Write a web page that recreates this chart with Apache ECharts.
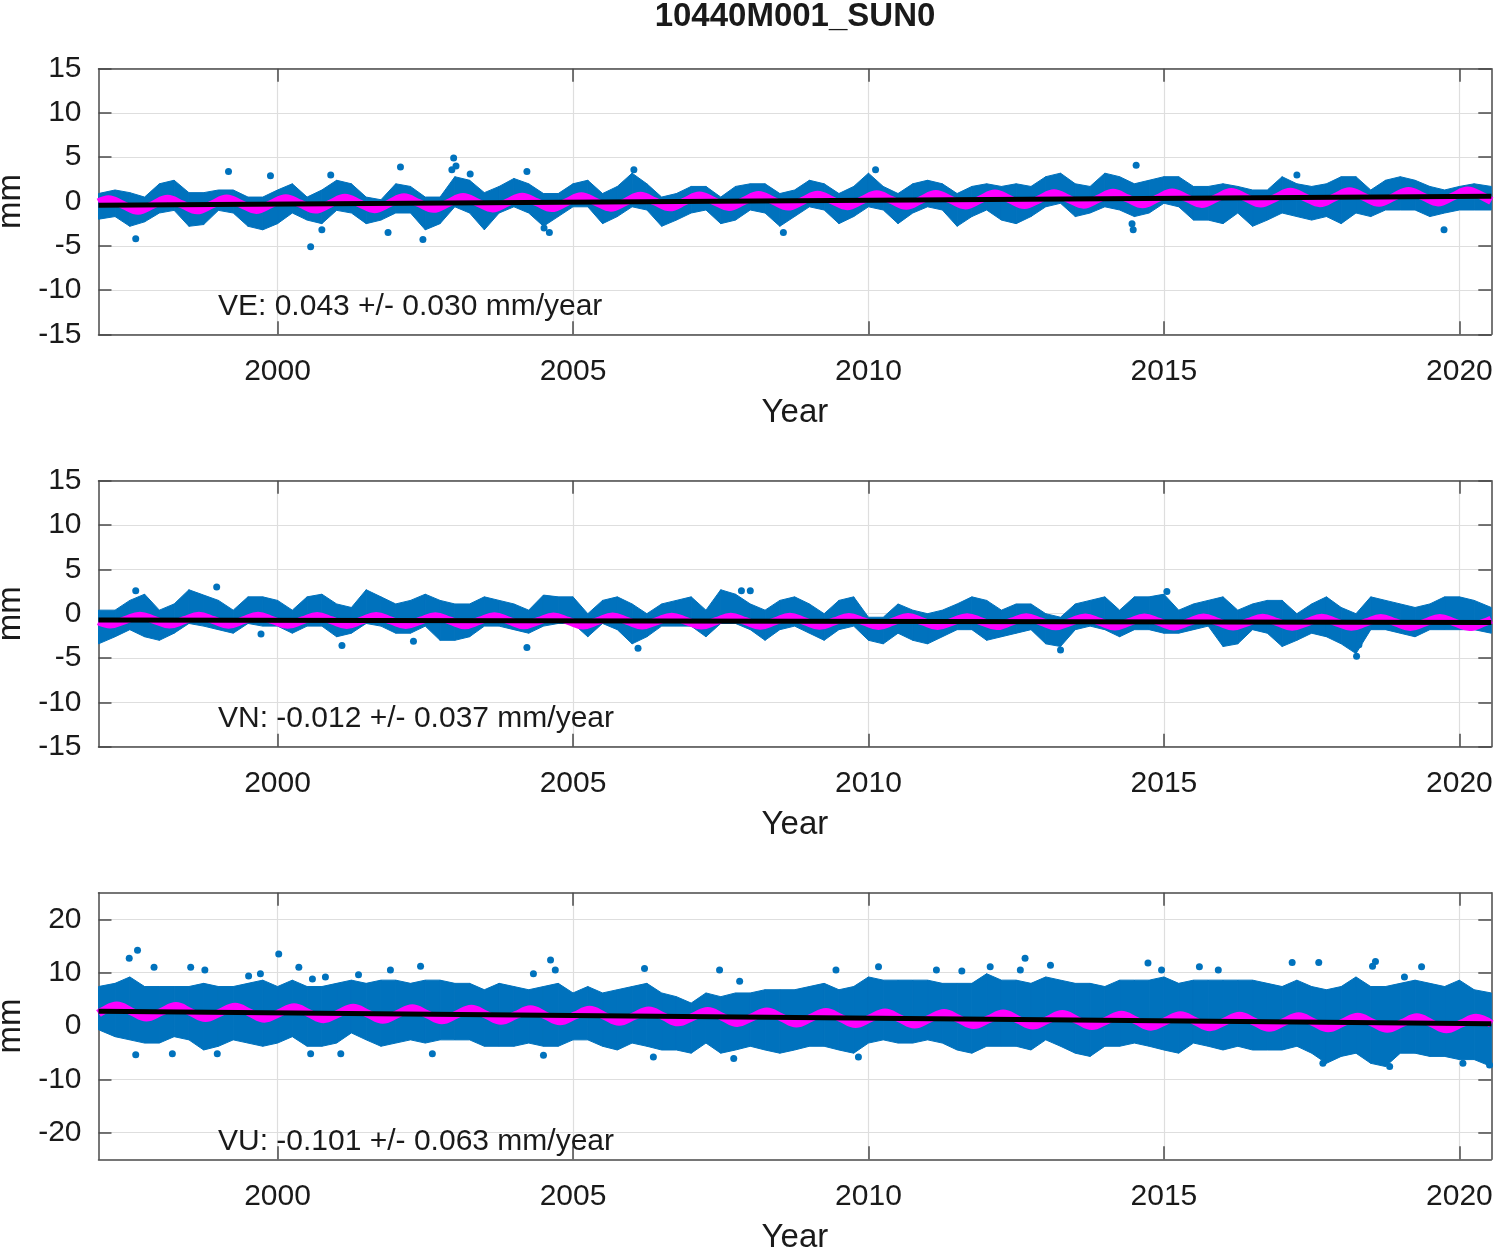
<!DOCTYPE html>
<html>
<head>
<meta charset="utf-8">
<script src="https://cdn.jsdelivr.net/npm/echarts@6/dist/echarts.min.js"></script>
<style>
html, body { margin: 0; background: #fff; }
#chart { width: 1500px; height: 1253px; }
</style>
</head>
<body>
<div id="chart"></div>
<script>
// sample times (decimal year) for the upper / lower edge of the daily point cloud
const bandYears = [1996.97, 1997.25, 1997.5, 1997.75,
  1998, 1998.25, 1998.5, 1998.75, 1999, 1999.25, 1999.5, 1999.75,
  2000, 2000.25, 2000.5, 2000.75, 2001, 2001.25, 2001.5, 2001.75,
  2002, 2002.25, 2002.5, 2002.75, 2003, 2003.25, 2003.5, 2003.75,
  2004, 2004.25, 2004.5, 2004.75, 2005, 2005.25, 2005.5, 2005.75,
  2006, 2006.25, 2006.5, 2006.75, 2007, 2007.25, 2007.5, 2007.75,
  2008, 2008.25, 2008.5, 2008.75, 2009, 2009.25, 2009.5, 2009.75,
  2010, 2010.25, 2010.5, 2010.75, 2011, 2011.25, 2011.5, 2011.75,
  2012, 2012.25, 2012.5, 2012.75, 2013, 2013.25, 2013.5, 2013.75,
  2014, 2014.25, 2014.5, 2014.75, 2015, 2015.25, 2015.5, 2015.75,
  2016, 2016.25, 2016.5, 2016.75, 2017, 2017.25, 2017.5, 2017.75,
  2018, 2018.25, 2018.5, 2018.75, 2019, 2019.25, 2019.5, 2019.75,
  2020, 2020.25, 2020.54];

const yearTicks = [2000, 2005, 2010, 2015, 2020];
const enTicks = [-15, -10, -5, 0, 5, 10, 15];
const upTicks = [-20, -10, 0, 10, 20];

// East
const eastHigh = [0.9, 1.3, 1.0, 0.5, 2.0, 2.4, 1.0, 1.0, 1.3, 1.3, 0.5, 0.5,
  1.3, 2.0, 0.5, 1.3, 2.4, 2.0, 0.5, 0.2, 2.0, 1.7, 0.5, 0.5, 2.8, 2.4, 1.0, 1.7,
  2.6, 2.0, 0.9, 0.9, 2.0, 2.4, 0.9, 1.7, 3.2, 2.0, 0.5, 0.9, 1.7, 1.7, 0.5, 1.7,
  2.0, 2.0, 0.9, 1.3, 2.4, 2.0, 0.9, 1.7, 3.2, 1.7, 0.9, 2.0, 2.4, 2.0, 0.9, 1.7,
  2.0, 1.7, 2.0, 1.7, 2.8, 3.2, 2.0, 1.7, 3.2, 2.8, 2.0, 2.4, 2.8, 2.8, 1.7, 1.7,
  2.0, 1.7, 1.3, 1.3, 2.8, 2.0, 1.7, 2.0, 2.8, 2.8, 1.3, 2.4, 2.8, 2.4, 1.7, 1.3,
  1.7, 2.0, 1.7];
const eastLow = [-2.0, -1.7, -2.8, -2.3, -1.3, -1.0, -2.8, -2.6, -1.0, -1.3, -2.8, -3.2,
  -2.5, -1.3, -2.1, -2.5, -1.0, -1.3, -2.5, -2.1, -1.3, -1.3, -3.2, -2.5, -0.6, -1.3, -3.2, -1.3,
  -0.6, -1.3, -2.8, -1.7, -0.6, -0.6, -2.5, -1.7, -0.6, -0.96, -2.8, -2.1, -1.3, -0.96, -2.5, -2.1,
  -0.96, -1.3, -2.8, -1.7, -0.6, -0.96, -2.5, -1.7, -0.6, -0.96, -2.5, -1.3, -0.6, -0.96, -2.8, -1.7,
  -0.96, -2.1, -2.5, -1.7, -0.6, -0.2, -1.7, -1.3, -0.6, -0.96, -1.7, -1.3, -0.2, -0.6, -2.1, -2.1,
  -2.5, -1.3, -2.8, -2.1, -1.3, -1.7, -2.1, -1.7, -2.5, -1.3, -1.7, -0.96, -0.96, -0.96, -1.7, -1.3,
  -0.96, -0.96, -0.96];
const eastPoints = [[1997.60, -4.2], [1999.17, 3.4], [1999.88, 2.9], [2000.56, -5.1], [2000.75, -3.2],
  [2000.90, 3.0], [2001.87, -3.5], [2002.08, 3.9], [2002.46, -4.3], [2002.95, 3.6], [2002.98, 4.9],
  [2003.02, 4.0], [2003.26, 3.1], [2004.22, 3.4], [2004.51, -3.0], [2004.60, -3.5], [2006.03, 3.6],
  [2008.56, -3.5], [2010.12, 3.6], [2014.46, -2.5], [2014.48, -3.2], [2014.53, 4.1], [2017.25, 3.0],
  [2019.74, -3.2]];
const eastSeason = [[1996.97, -0.1],
  [1997.14, 0.25], [1997.39, -0.39], [1997.64, -1.04], [1997.89, -0.38],
  [1998.14, 0.3], [1998.39, -0.35], [1998.64, -1.0], [1998.89, -0.34],
  [1999.14, 0.34], [1999.39, -0.3], [1999.64, -0.95], [1999.89, -0.29],
  [2000.14, 0.38], [2000.39, -0.26], [2000.64, -0.91], [2000.89, -0.25],
  [2001.14, 0.43], [2001.39, -0.22], [2001.64, -0.87], [2001.89, -0.21],
  [2002.14, 0.47], [2002.39, -0.18], [2002.64, -0.83], [2002.89, -0.16],
  [2003.14, 0.51], [2003.39, -0.13], [2003.64, -0.78], [2003.89, -0.12],
  [2004.14, 0.55], [2004.39, -0.09], [2004.64, -0.74], [2004.89, -0.08],
  [2005.14, 0.6], [2005.39, -0.05], [2005.64, -0.7], [2005.89, -0.04],
  [2006.14, 0.64], [2006.39, -0.01], [2006.64, -0.66], [2006.89, 0.01],
  [2007.14, 0.68], [2007.39, 0.04], [2007.64, -0.61], [2007.89, 0.05],
  [2008.14, 0.73], [2008.39, 0.08], [2008.64, -0.57], [2008.89, 0.09],
  [2009.14, 0.77], [2009.39, 0.12], [2009.64, -0.53], [2009.89, 0.14],
  [2010.14, 0.81], [2010.39, 0.16], [2010.64, -0.49], [2010.89, 0.18],
  [2011.14, 0.86], [2011.39, 0.21], [2011.64, -0.44], [2011.89, 0.22],
  [2012.14, 0.9], [2012.39, 0.25], [2012.64, -0.4], [2012.89, 0.26],
  [2013.14, 0.94], [2013.39, 0.29], [2013.64, -0.36], [2013.89, 0.31],
  [2014.14, 0.98], [2014.39, 0.33], [2014.64, -0.32], [2014.89, 0.35],
  [2015.14, 1.03], [2015.39, 0.38], [2015.64, -0.27], [2015.89, 0.39],
  [2016.14, 1.07], [2016.39, 0.42], [2016.64, -0.23], [2016.89, 0.43],
  [2017.14, 1.11], [2017.39, 0.46], [2017.64, -0.19], [2017.89, 0.48],
  [2018.14, 1.16], [2018.39, 0.51], [2018.64, -0.14], [2018.89, 0.52],
  [2019.14, 1.2], [2019.39, 0.55], [2019.64, -0.1], [2019.89, 0.56],
  [2020.14, 1.24], [2020.39, 0.59], [2020.54, 0.06]];
const eastTrend = [[1996.97, -0.42], [2020.54, 0.59]];

// North
const northHigh = [0.4, 0.4, 1.5, 2.2, 0.4, 1.1, 2.7, 2.1, 1.5, 0.4, 1.9, 1.9,
  1.5, 0.4, 1.9, 2.2, 1.1, 0.7, 2.7, 1.9, 1.1, 1.5, 2.2, 1.5, 1.1, 1.1, 1.9, 1.5,
  1.1, 0.4, 2.1, 1.9, 1.9, 0.0, 1.5, 1.9, 1.1, 0.0, 1.1, 1.5, 1.9, 0.4, 2.7, 2.2,
  1.1, 0.4, 1.5, 1.9, 1.1, 0.0, 1.5, 1.9, -0.4, -0.4, 1.1, 0.4, 0.0, 0.4, 1.1, 1.9,
  1.5, 0.4, 1.1, 1.1, 0.0, -0.4, 1.1, 1.5, 1.9, 0.4, 1.9, 1.9, 2.2, 0.4, 1.1, 1.5,
  1.9, 0.4, 1.1, 1.5, 1.5, 0.0, 1.1, 1.9, 0.7, 0.0, 1.9, 1.5, 1.1, 0.7, 1.1, 1.9,
  1.9, 1.5, 0.7];
const northLow = [-3.4, -2.6, -1.8, -2.6, -3.0, -2.2, -1.1, -1.4, -1.8, -2.2, -1.1, -1.4,
  -1.4, -2.2, -1.4, -1.4, -2.6, -2.2, -1.1, -1.4, -2.2, -2.2, -1.4, -3.0, -3.0, -2.6, -1.4, -1.4,
  -1.8, -2.2, -1.4, -1.1, -1.1, -2.6, -1.1, -1.8, -3.4, -2.6, -1.4, -1.4, -1.4, -2.6, -1.1, -1.1,
  -1.8, -3.0, -1.8, -1.4, -2.2, -3.0, -1.8, -1.4, -3.0, -3.4, -2.2, -3.0, -3.4, -2.6, -1.8, -1.8,
  -3.0, -2.6, -2.2, -1.8, -3.4, -3.7, -1.8, -1.4, -1.8, -2.6, -1.8, -1.8, -2.2, -2.2, -1.8, -1.4,
  -3.7, -3.4, -1.8, -2.2, -3.7, -3.0, -2.2, -2.6, -3.4, -4.5, -1.8, -1.8, -2.2, -2.6, -1.8, -1.8,
  -1.8, -1.8, -2.2];
const northPoints = [[1997.60, 2.6], [1998.97, 3.0], [1999.72, -2.3], [2001.09, -3.6], [2002.30, -3.1],
  [2004.22, -3.8], [2006.10, -3.9], [2007.85, 2.6], [2008.00, 2.6], [2013.25, -4.1], [2015.05, 2.5],
  [2018.26, -4.8], [2018.30, -3.5]];
const northSeason = [[1996.97, -0.87],
  [1997.17, -1.22], [1997.42, -0.72], [1997.67, -0.22], [1997.92, -0.72],
  [1998.17, -1.23], [1998.42, -0.73], [1998.67, -0.23], [1998.92, -0.73],
  [1999.17, -1.24], [1999.42, -0.74], [1999.67, -0.24], [1999.92, -0.74],
  [2000.17, -1.26], [2000.42, -0.76], [2000.67, -0.26], [2000.92, -0.76],
  [2001.17, -1.27], [2001.42, -0.77], [2001.67, -0.27], [2001.92, -0.77],
  [2002.17, -1.28], [2002.42, -0.78], [2002.67, -0.28], [2002.92, -0.78],
  [2003.17, -1.29], [2003.42, -0.79], [2003.67, -0.29], [2003.92, -0.79],
  [2004.17, -1.31], [2004.42, -0.81], [2004.67, -0.31], [2004.92, -0.81],
  [2005.17, -1.32], [2005.42, -0.82], [2005.67, -0.32], [2005.92, -0.82],
  [2006.17, -1.33], [2006.42, -0.83], [2006.67, -0.33], [2006.92, -0.83],
  [2007.17, -1.34], [2007.42, -0.84], [2007.67, -0.34], [2007.92, -0.84],
  [2008.17, -1.35], [2008.42, -0.85], [2008.67, -0.35], [2008.92, -0.85],
  [2009.17, -1.37], [2009.42, -0.87], [2009.67, -0.37], [2009.92, -0.87],
  [2010.17, -1.38], [2010.42, -0.88], [2010.67, -0.38], [2010.92, -0.88],
  [2011.17, -1.39], [2011.42, -0.89], [2011.67, -0.39], [2011.92, -0.89],
  [2012.17, -1.4], [2012.42, -0.9], [2012.67, -0.4], [2012.92, -0.9],
  [2013.17, -1.42], [2013.42, -0.92], [2013.67, -0.42], [2013.92, -0.92],
  [2014.17, -1.43], [2014.42, -0.93], [2014.67, -0.43], [2014.92, -0.93],
  [2015.17, -1.44], [2015.42, -0.94], [2015.67, -0.44], [2015.92, -0.94],
  [2016.17, -1.45], [2016.42, -0.95], [2016.67, -0.45], [2016.92, -0.95],
  [2017.17, -1.47], [2017.42, -0.97], [2017.67, -0.47], [2017.92, -0.97],
  [2018.17, -1.48], [2018.42, -0.98], [2018.67, -0.48], [2018.92, -0.98],
  [2019.17, -1.49], [2019.42, -0.99], [2019.67, -0.49], [2019.92, -0.99],
  [2020.17, -1.5], [2020.42, -1.0], [2020.54, -0.66]];
const northTrend = [[1996.97, -0.72], [2020.54, -1.0]];

// Up
const upHigh = [7.4, 8.0, 9.2, 7.4, 7.4, 7.4, 7.4, 8.0, 7.4, 7.4, 8.0, 8.6,
  7.4, 8.6, 7.4, 7.4, 8.0, 8.6, 8.0, 8.6, 8.6, 8.0, 8.6, 8.6, 8.0, 8.0, 6.8, 8.0,
  7.4, 6.8, 7.4, 8.0, 6.2, 7.4, 6.2, 6.8, 7.4, 8.0, 6.2, 5.5, 4.3, 6.2, 5.5, 6.2,
  6.2, 6.8, 6.8, 6.8, 7.4, 8.0, 6.8, 7.4, 9.2, 8.6, 8.6, 8.6, 8.6, 8.0, 8.0, 8.0,
  9.8, 8.6, 8.6, 8.0, 9.2, 8.6, 8.0, 8.0, 7.4, 8.6, 8.6, 8.6, 9.2, 8.0, 8.6, 8.6,
  8.6, 8.6, 8.6, 8.0, 7.4, 8.6, 7.4, 6.8, 7.4, 9.2, 7.4, 7.4, 8.0, 8.6, 8.0, 7.4,
  8.6, 6.8, 6.2];
const upLow = [-0.7, -2.0, -2.6, -3.2, -3.2, -2.0, -2.6, -4.5, -3.8, -2.6, -3.2, -3.8,
  -3.2, -2.0, -3.8, -3.8, -3.2, -1.3, -2.6, -3.8, -3.2, -2.6, -3.2, -2.6, -2.6, -2.6, -3.8, -3.8,
  -3.8, -3.2, -3.8, -3.8, -2.6, -2.6, -3.8, -4.5, -3.2, -3.8, -4.5, -4.5, -5.1, -3.2, -5.1, -4.5,
  -3.8, -4.5, -5.1, -4.5, -3.8, -3.8, -4.5, -5.1, -3.2, -2.6, -3.2, -3.2, -2.6, -3.2, -4.5, -5.1,
  -3.8, -3.8, -3.8, -4.5, -2.6, -3.8, -5.1, -5.7, -3.8, -3.8, -3.2, -3.8, -4.5, -5.1, -3.2, -3.8,
  -4.5, -3.8, -4.5, -4.5, -4.5, -3.8, -5.1, -7.0, -5.7, -5.1, -7.0, -7.6, -5.1, -5.1, -5.7, -5.7,
  -6.3, -6.3, -7.6];
const upPoints = [[1997.49, 12.7], [1997.63, 14.2], [1997.60, -5.4], [1997.91, 11.0], [1998.22, -5.2],
  [1998.53, 11.0], [1998.77, 10.5], [1998.98, -5.2], [1999.51, 9.4], [1999.71, 9.8], [2000.02, 13.5],
  [2000.36, 11.0], [2000.56, -5.2], [2000.59, 8.8], [2000.81, 9.2], [2001.07, -5.2], [2001.37, 9.6],
  [2001.91, 10.5], [2002.42, 11.2], [2002.62, -5.2], [2004.33, 9.8], [2004.50, -5.5], [2004.62, 12.4],
  [2004.70, 10.5], [2006.21, 10.8], [2006.36, -5.8], [2007.48, 10.5], [2007.72, -6.1], [2007.82, 8.4],
  [2009.45, 10.5], [2009.83, -5.8], [2010.17, 11.1], [2011.15, 10.5], [2011.58, 10.3], [2012.06, 11.1],
  [2012.57, 10.5], [2012.65, 12.7], [2013.08, 11.4], [2014.73, 11.8], [2014.96, 10.5], [2015.60, 11.1],
  [2015.92, 10.5], [2017.17, 11.9], [2017.62, 11.9], [2017.69, -7.0], [2018.53, 11.2], [2018.58, 12.1],
  [2018.82, -7.6], [2019.07, 9.2], [2019.36, 11.1], [2020.06, -7.0], [2020.51, -7.3]];
const upSeason = [[1996.97, 2.35],
  [1997.03, 2.75], [1997.28, 3.83], [1997.53, 2.7], [1997.78, 1.58],
  [1998.03, 2.65], [1998.28, 3.73], [1998.53, 2.6], [1998.78, 1.48],
  [1999.03, 2.55], [1999.28, 3.63], [1999.53, 2.5], [1999.78, 1.38],
  [2000.03, 2.45], [2000.28, 3.53], [2000.53, 2.4], [2000.78, 1.28],
  [2001.03, 2.35], [2001.28, 3.43], [2001.53, 2.3], [2001.78, 1.18],
  [2002.03, 2.25], [2002.28, 3.33], [2002.53, 2.2], [2002.78, 1.08],
  [2003.03, 2.15], [2003.28, 3.23], [2003.53, 2.1], [2003.78, 0.98],
  [2004.03, 2.05], [2004.28, 3.13], [2004.53, 2.0], [2004.78, 0.88],
  [2005.03, 1.95], [2005.28, 3.03], [2005.53, 1.9], [2005.78, 0.78],
  [2006.03, 1.85], [2006.28, 2.93], [2006.53, 1.8], [2006.78, 0.68],
  [2007.03, 1.75], [2007.28, 2.83], [2007.53, 1.7], [2007.78, 0.58],
  [2008.03, 1.65], [2008.28, 2.73], [2008.53, 1.6], [2008.78, 0.48],
  [2009.03, 1.55], [2009.28, 2.63], [2009.53, 1.5], [2009.78, 0.38],
  [2010.03, 1.45], [2010.28, 2.53], [2010.53, 1.4], [2010.78, 0.28],
  [2011.03, 1.35], [2011.28, 2.43], [2011.53, 1.3], [2011.78, 0.18],
  [2012.03, 1.25], [2012.28, 2.33], [2012.53, 1.2], [2012.78, 0.08],
  [2013.03, 1.15], [2013.28, 2.23], [2013.53, 1.1], [2013.78, -0.02],
  [2014.03, 1.05], [2014.28, 2.13], [2014.53, 1.0], [2014.78, -0.12],
  [2015.03, 0.95], [2015.28, 2.03], [2015.53, 0.9], [2015.78, -0.22],
  [2016.03, 0.85], [2016.28, 1.93], [2016.53, 0.8], [2016.78, -0.32],
  [2017.03, 0.75], [2017.28, 1.83], [2017.53, 0.7], [2017.78, -0.42],
  [2018.03, 0.65], [2018.28, 1.73], [2018.53, 0.6], [2018.78, -0.52],
  [2019.03, 0.55], [2019.28, 1.63], [2019.53, 0.5], [2019.78, -0.62],
  [2020.03, 0.45], [2020.28, 1.53], [2020.54, 0.38]];
const upTrend = [[1996.97, 2.75], [2020.54, 0.4]];

const blue = '#0072BD';
const axisGray = '#4a4a4a';
const textColor = '#1a1a1a';
const font = '"Liberation Sans", Arial, Helvetica, sans-serif';

const panels = [
  { top: 68.7, height: 265.6, min: -15, max: 15, ticks: enTicks, lo: eastLow, hi: eastHigh,
    pts: eastPoints, season: eastSeason, trend: eastTrend, note: 'VE: 0.043 +/- 0.030 mm/year', noteY: 307 },
  { top: 480.7, height: 266, min: -15, max: 15, ticks: enTicks, lo: northLow, hi: northHigh,
    pts: northPoints, season: northSeason, trend: northTrend, note: 'VN: -0.012 +/- 0.037 mm/year', noteY: 719 },
  { top: 892.7, height: 266.6, min: -25, max: 25, ticks: upTicks, lo: upLow, hi: upHigh,
    pts: upPoints, season: upSeason, trend: upTrend, note: 'VU: -0.101 +/- 0.063 mm/year', noteY: 1142 }
];

function bandRows(lo, hi) {
  const rows = [];
  for (let i = 0; i < bandYears.length - 1; i++) {
    rows.push([bandYears[i], lo[i], hi[i], bandYears[i + 1], lo[i + 1], hi[i + 1]]);
  }
  return rows;
}

function renderBand(params, api) {
  const pts = [
    api.coord([api.value(0), api.value(1)]),
    api.coord([api.value(0), api.value(2)]),
    api.coord([api.value(3), api.value(5)]),
    api.coord([api.value(3), api.value(4)])
  ];
  return {
    type: 'polygon',
    shape: { points: pts },
    style: { fill: blue, stroke: blue, lineWidth: 1 }
  };
}

const tickStyle = { show: true, inside: true, length: 13, lineStyle: { color: axisGray, width: 1.5 } };
const gridLine = { show: true, lineStyle: { color: '#dedede', width: 1.2 } };
const plain = (v) => String(v);

const grid = [], xAxis = [], yAxis = [], series = [], graphic = [];

graphic.push({
  type: 'text', x: 795, y: 17,
  style: { text: '10440M001_SUN0', font: 'bold 33px ' + font, fill: textColor,
    textAlign: 'center', textVerticalAlign: 'middle' }
});

panels.forEach((p, i) => {
  grid.push({ left: 98.5, width: 1392.8, top: p.top, height: p.height, outerBoundsMode: 'none' });

  // bottom / top x axes
  xAxis.push({
    type: 'value', gridIndex: i, min: 1996.97, max: 2020.54, position: 'bottom',
    name: 'Year', nameLocation: 'middle', nameGap: 62,
    nameTextStyle: { fontFamily: font, fontSize: 33, color: textColor },
    axisLine: { show: true, onZero: false, lineStyle: { color: axisGray, width: 1.5 } },
    axisTick: Object.assign({ customValues: yearTicks }, tickStyle),
    axisLabel: { customValues: yearTicks, formatter: plain, margin: 22, fontFamily: font, fontSize: 30, color: textColor },
    splitLine: gridLine
  });
  xAxis.push({
    type: 'value', gridIndex: i, min: 1996.97, max: 2020.54, position: 'top',
    axisLine: { show: true, onZero: false, lineStyle: { color: axisGray, width: 1.5 } },
    axisTick: Object.assign({ customValues: yearTicks }, tickStyle),
    axisLabel: { show: false },
    splitLine: { show: false }
  });

  // left / right y axes
  yAxis.push({
    type: 'value', gridIndex: i, min: p.min, max: p.max, position: 'left',
    name: 'mm', nameLocation: 'middle', nameGap: 70,
    nameTextStyle: { fontFamily: font, fontSize: 33, color: textColor },
    axisLine: { show: true, onZero: false, lineStyle: { color: axisGray, width: 1.5 } },
    axisTick: Object.assign({ customValues: p.ticks }, tickStyle),
    axisLabel: { customValues: p.ticks, formatter: plain, margin: 17, fontFamily: font, fontSize: 30, color: textColor },
    splitLine: gridLine
  });
  yAxis.push({
    type: 'value', gridIndex: i, min: p.min, max: p.max, position: 'right',
    axisLine: { show: true, onZero: false, lineStyle: { color: axisGray, width: 1.5 } },
    axisTick: Object.assign({ customValues: p.ticks }, tickStyle),
    axisLabel: { show: false },
    splitLine: { show: false }
  });

  const xi = i * 2, yi = i * 2;
  series.push({
    type: 'custom', xAxisIndex: xi, yAxisIndex: yi,
    renderItem: renderBand, data: bandRows(p.lo, p.hi),
    encode: { x: [0, 3], y: [1, 2, 4, 5] }, silent: true, z: 2
  });
  series.push({
    type: 'scatter', xAxisIndex: xi, yAxisIndex: yi, data: p.pts,
    symbol: 'circle', symbolSize: 7, itemStyle: { color: blue, opacity: 1 }, silent: true, z: 3
  });
  series.push({
    type: 'line', xAxisIndex: xi, yAxisIndex: yi, data: p.season,
    smooth: 0.4, showSymbol: false, lineStyle: { color: '#FF00FF', width: 8 }, silent: true, z: 4
  });
  series.push({
    type: 'line', xAxisIndex: xi, yAxisIndex: yi, data: p.trend,
    showSymbol: false, lineStyle: { color: '#000', width: 5 }, silent: true, z: 5
  });

  graphic.push({
    type: 'text', x: 218, y: p.noteY, z: 10,
    style: { text: p.note, font: '30px ' + font, fill: textColor, textAlign: 'left', textVerticalAlign: 'middle' }
  });
});

const chart = echarts.init(document.getElementById('chart'));
chart.setOption({
  animation: false,
  backgroundColor: '#fff',
  grid: grid,
  xAxis: xAxis,
  yAxis: yAxis,
  series: series,
  graphic: graphic
});
</script>
</body>
</html>
